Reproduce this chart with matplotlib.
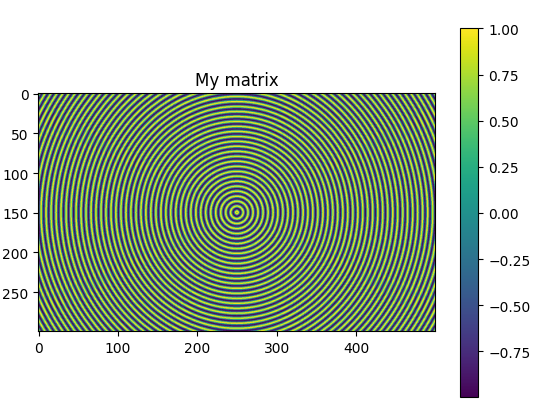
import numpy as np
import matplotlib
matplotlib.use("Agg")
import matplotlib.pyplot as plt

title = "My matrix"
n_rows = 300
n_cols = 500
center_x = 250
center_y = 150

# radii of the yellow rings, read along the horizontal through the centre
crest_radii = [1.6, 7.9, 14.1, 20.4, 26.7, 33.0, 39.3, 45.6, 51.8, 58.1, 64.4, 70.7,
               77.0, 83.3, 89.5, 95.8, 102.1, 108.4, 114.7, 120.9, 127.2, 133.5, 139.8,
               146.1, 152.4, 158.6, 164.9, 171.2, 177.5, 183.8, 190.1, 196.3, 202.6,
               208.9, 215.2, 221.5, 227.8, 234.0, 240.3, 246.6, 252.9, 259.2, 265.5,
               271.7, 278.0, 284.3, 290.6]

# colour seen at a given distance from the nearest yellow ring
band_edges = [0.4, 0.8, 1.2, 1.6, 2.0, 2.4, 2.8]
band_values = [0.98, 0.83, 0.54, 0.17, -0.23, -0.59, -0.86, -0.99]
value_min = -0.9999
value_max = 1.0

crests = np.array(crest_radii)
yy, xx = np.indices((n_rows, n_cols))
r = np.hypot(xx - center_x, yy - center_y)
idx = np.clip(np.searchsorted(crests, r), 1, len(crests) - 1)
dist = np.minimum(np.abs(r - crests[idx - 1]), np.abs(r - crests[idx]))
matrix = np.array(band_values)[np.searchsorted(band_edges, dist)]

fig = plt.figure(figsize=(5.41, 4.14), dpi=100)
ax = fig.add_axes([37.6 / 541, 1 - 332.4 / 414, 398 / 541, 238 / 414])
im = ax.imshow(matrix, cmap="viridis", vmin=value_min, vmax=value_max)
ax.set_title(title)

cax = fig.add_axes([460.4 / 541, 1 - 398.4 / 414, 18 / 541, 369 / 414])
fig.colorbar(im, cax=cax)

fig.savefig("out.png", dpi=100)
